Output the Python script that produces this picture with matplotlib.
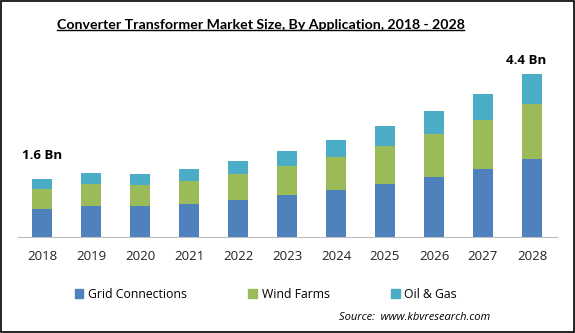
import matplotlib
matplotlib.use("Agg")
import matplotlib.pyplot as plt
from matplotlib.lines import Line2D
from matplotlib.patches import Patch, Rectangle
import numpy as np

years = ["2018", "2019", "2020", "2021", "2022", "2023", "2024", "2025", "2026", "2027", "2028"]
grid_connections = [0.76, 0.84, 0.84, 0.89, 1.00, 1.13, 1.27, 1.43, 1.62, 1.84, 2.11]
wind_farms = [0.54, 0.59, 0.57, 0.62, 0.70, 0.78, 0.89, 1.03, 1.16, 1.32, 1.48]
oil_gas = [0.26, 0.30, 0.30, 0.32, 0.35, 0.40, 0.46, 0.54, 0.62, 0.70, 0.81]
series_names = ["Grid Connections", "Wind Farms", "Oil & Gas"]
colors = ["#4F81BD", "#9BBB59", "#4BACC6"]

plt.rcParams["font.family"] = ["Open Sans", "DejaVu Sans"]

fig = plt.figure(figsize=(5.75, 3.33), dpi=100)
ax = fig.add_axes([17.5 / 575, 1 - 237 / 333, 539 / 575, 187 / 333])

x = np.arange(len(years))
bottom = np.zeros(len(years))
for vals, c in zip([grid_connections, wind_farms, oil_gas], colors):
    ax.bar(x, vals, width=0.39, bottom=bottom, color=c)
    bottom += np.array(vals)

ax.set_xlim(-0.5, len(years) - 0.5)
ax.set_ylim(0, 187 / 37.05)
ax.set_xticks(x)
ax.set_xticklabels(years, fontsize=9.5, color="#222222")
ax.tick_params(axis="x", length=0, pad=9)
ax.set_yticks([])
for s in ["top", "right", "left"]:
    ax.spines[s].set_visible(False)
ax.spines["bottom"].set_color("#BFBFBF")

ax.annotate("1.6 Bn", (0, bottom[0]), xytext=(0, 17), textcoords="offset points",
            ha="center", va="center", fontsize=9.5, fontweight="bold")
ax.annotate("4.4 Bn", (10, bottom[-1]), xytext=(-4, 5), textcoords="offset points",
            ha="center", va="bottom", fontsize=9.5, fontweight="bold")

title = fig.text(260.5 / 575, 1 - 25 / 333, "Converter Transformer Market Size, By Application, 2018 - 2028",
                 ha="center", va="center", fontsize=10.2, fontweight="bold", family="Lato")

handles = [Patch(color=c) for c in colors]
fig.legend(handles, series_names, loc="center", bbox_to_anchor=(266 / 575, 1 - 294 / 333), ncol=3,
           frameon=False, fontsize=8.8, handlelength=0.7, handleheight=0.7,
           handletextpad=0.4, columnspacing=5.0)

fig.text(490 / 575, 1 - 317 / 333, "Source:  www.kbvresearch.com", ha="right", va="center",
         fontsize=8, style="italic")

# underline for title
fig.canvas.draw()
bb = title.get_window_extent().transformed(fig.transFigure.inverted())
fig.add_artist(Line2D([bb.x0, bb.x1], [bb.y0 + 0.004, bb.y0 + 0.004], color="black", lw=1,
                      transform=fig.transFigure))

fig.add_artist(Rectangle((0.001, 0.002), 0.997, 0.995, transform=fig.transFigure,
                         fill=False, edgecolor="black", lw=1.2))

fig.savefig("out.png", dpi=100)
